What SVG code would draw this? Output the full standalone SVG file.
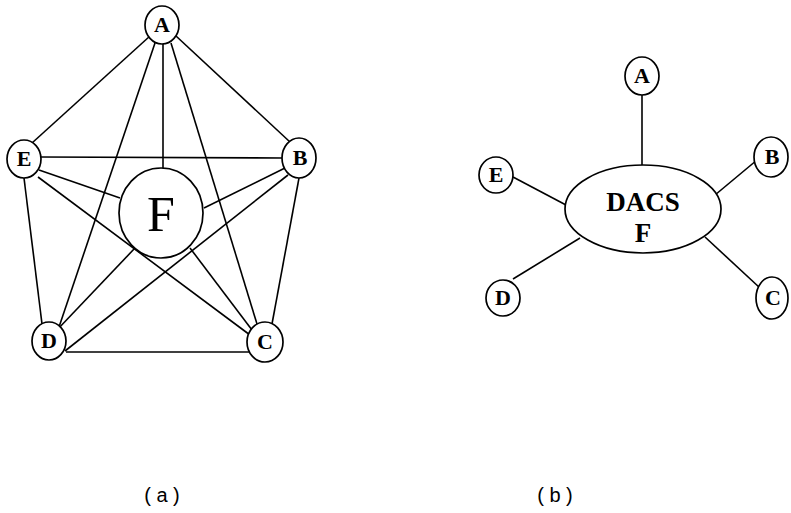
<svg xmlns="http://www.w3.org/2000/svg" width="791" height="513" viewBox="0 0 791 513">
<style>
.n{fill:#fff;stroke:#000;stroke-width:1.7}
.t{font-family:"Liberation Serif",serif;font-weight:bold;font-size:22px;text-anchor:middle;fill:#000}
.big{font-size:27px}
.c line{stroke:#000;stroke-width:1.6}
.cap{font-family:"Liberation Sans",sans-serif;font-size:20px;text-anchor:middle;fill:#000}
</style>
<rect width="791" height="513" fill="#fff"/>
<g id="connectors-a" class="c">
<line x1="150" y1="36" x2="32" y2="143"/>
<line x1="176" y1="36" x2="290" y2="142"/>
<line x1="163" y1="44" x2="163" y2="169"/>
<line x1="155" y1="43" x2="58" y2="330"/>
<line x1="171" y1="43" x2="257" y2="324"/>
<line x1="41" y1="157" x2="283" y2="158"/>
<line x1="39" y1="170" x2="120" y2="198"/>
<line x1="38" y1="177" x2="250" y2="335"/>
<line x1="24" y1="178" x2="42" y2="324"/>
<line x1="285" y1="168" x2="204" y2="208"/>
<line x1="288" y1="175" x2="65" y2="351"/>
<line x1="299" y1="178" x2="272" y2="324"/>
<line x1="66" y1="352" x2="256" y2="352"/>
<line x1="135" y1="248" x2="57" y2="330"/>
<line x1="190" y1="248" x2="252" y2="330"/>
</g>
<g id="F-a"><ellipse class="n" cx="161" cy="213" rx="42" ry="45"/><text x="161" y="231" font-family="Liberation Serif,serif" font-size="50" text-anchor="middle">F</text></g>
<g id="A-a"><ellipse class="n" cx="162" cy="25" rx="17" ry="19"/><text class="t" x="162" y="32">A</text></g>
<g id="E-a"><ellipse class="n" cx="24" cy="159" rx="17" ry="19"/><text class="t" x="24" y="166">E</text></g>
<g id="B-a"><ellipse class="n" cx="299" cy="158" rx="17" ry="20"/><text class="t" x="300" y="165">B</text></g>
<g id="D-a"><ellipse class="n" cx="49" cy="341" rx="17" ry="19"/><text class="t" x="49" y="348">D</text></g>
<g id="C-a"><ellipse class="n" cx="265" cy="342" rx="18" ry="20"/><text class="t" x="265" y="349">C</text></g>

<g id="connectors-b" class="c">
<line x1="642" y1="95" x2="642" y2="165"/>
<line x1="513" y1="177" x2="566" y2="205"/>
<line x1="757" y1="160" x2="715" y2="195"/>
<line x1="513" y1="279" x2="580" y2="238"/>
<line x1="760" y1="288" x2="705" y2="237"/>
</g>
<g id="DACS"><ellipse class="n" cx="643" cy="209" rx="78" ry="44"/><text class="t big" x="643" y="211">DACS</text><text class="t big" x="643" y="242">F</text></g>
<g id="A-b"><ellipse class="n" cx="642" cy="76" rx="17" ry="19"/><text class="t" x="642" y="83">A</text></g>
<g id="E-b"><ellipse class="n" cx="496" cy="175" rx="17" ry="18"/><text class="t" x="496" y="182">E</text></g>
<g id="B-b"><ellipse class="n" cx="771" cy="157" rx="17" ry="20"/><text class="t" x="772" y="164">B</text></g>
<g id="D-b"><ellipse class="n" cx="503" cy="298" rx="17" ry="18"/><text class="t" x="503" y="305">D</text></g>
<g id="C-b"><ellipse class="n" cx="772" cy="298" rx="16" ry="21"/><text class="t" x="773" y="305">C</text></g>

<text class="cap" x="162" y="502" xml:space="preserve">( a )</text>
<text class="cap" x="555" y="502" xml:space="preserve">( b )</text>
</svg>
